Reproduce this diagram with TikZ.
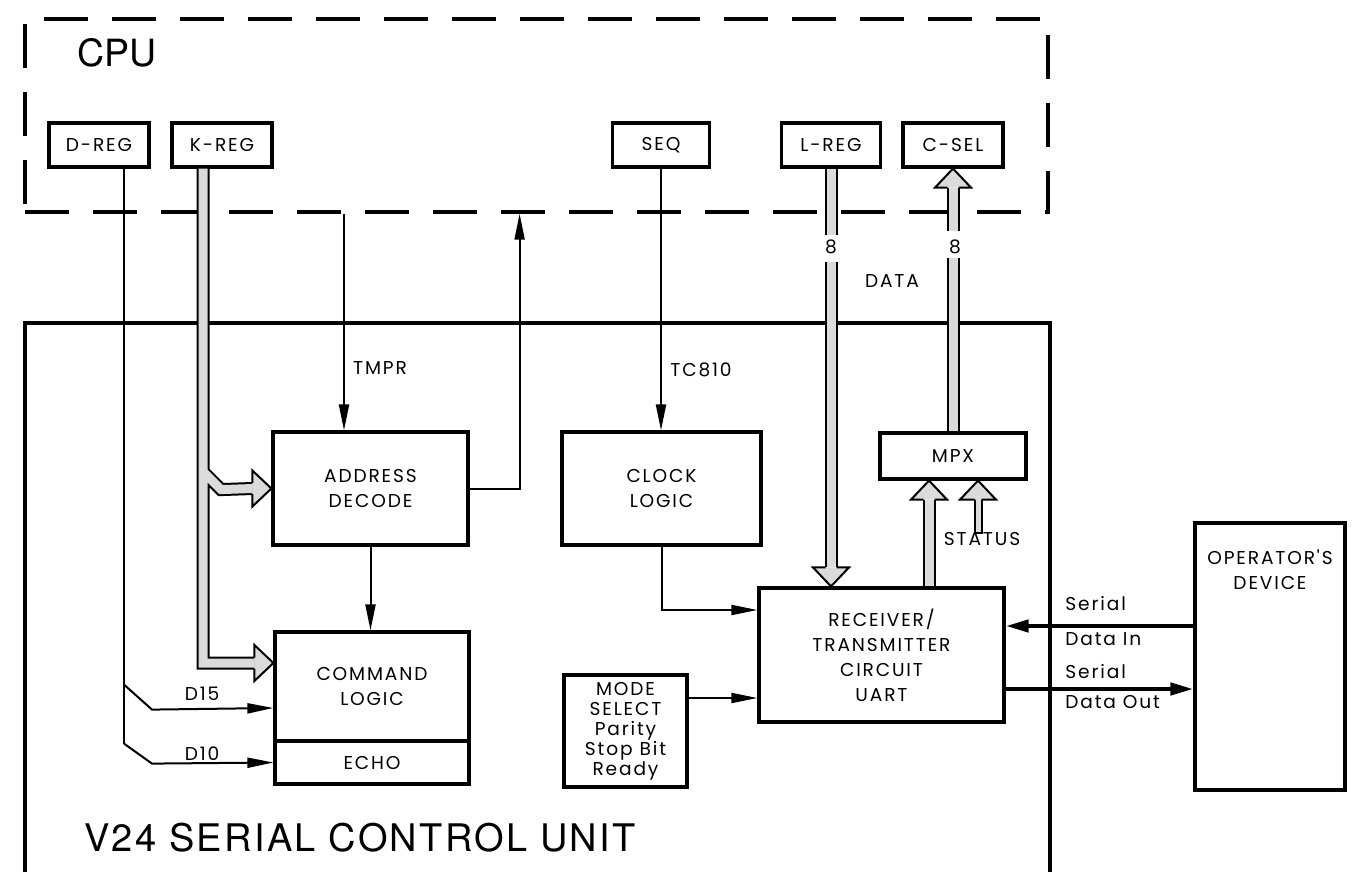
\documentclass[tikz,border=0pt]{standalone}
\usepackage{fontspec}
\usetikzlibrary{arrows.meta, positioning, calc}
\newfontfamily\lblfont[LetterSpace=10]{Poppins}
\newfontfamily\headfont{TeX Gyre Heros}
\tikzset{
  v24box/.style = {draw=black, fill=white, line width=1.6pt, inner sep=0pt,
    align=center, font=\lblfont\fontsize{9.3}{12.5}\selectfont},
  v24cpu/.style = {draw=black, line width=1.7pt, dash pattern=on 22pt off 12pt,
    inner sep=0pt},
  v24frm/.style = {draw=black, line width=1.6pt},
  v24lig/.style = {draw=black, line width=1pt},
  v24sig/.style = {v24lig, -{Triangle[length=13pt, width=5pt]}},
  v24ser/.style = {draw=black, line width=2.2pt, -{Triangle[length=11.5pt, width=6pt]}},
  v24bus/.style = {draw=black!14, line width=4.5pt,
    preaction={draw=black, line width=6.5pt}},
  v24sbus/.style = {draw=black!14, line width=2.5pt, line cap=rect,
    preaction={draw=black, line width=4.5pt, line cap=rect}},
  v24tip/.style = {fill=black!14, draw=black, line width=1pt, line join=miter},
  v24rot/.style = {font=\lblfont\fontsize{9.3}{12.5}\selectfont, inner sep=1pt}
}
\newcommand{\vHead}[3][2.75pt]{\filldraw [v24tip, shift={#2}, rotate=#3]
  (-9.5pt,#1) -- (-9.5pt,9pt) -- (0,0) -- (-9.5pt,-9pt) -- (-9.5pt,-#1);}

\begin{document}
\begin{tikzpicture}[x=0.5pt, y=-0.5pt]
  \useasboundingbox [fill=white] (0,0) rectangle (1354,872);
  \node [v24cpu, minimum width=511.5pt, minimum height=96.5pt] (cpu) at (536.5,115.5) {};
  \node [font=\headfont\fontsize{18.75}{20}\selectfont] (cpul) at (117,53) {CPU};
  \draw [v24frm] (25,872) -- (25,323) -- (1050,323) -- (1050,872);
  \node [font=\headfont\fontsize{19}{22}\selectfont\addfontfeature{LetterSpace=6}]
    (unitl) at (360,838) {V24 SERIAL CONTROL UNIT};

  \node [v24box, minimum width=50pt, minimum height=22pt] (dreg) at (99,145) {D-REG};
  \node [v24box, minimum width=50pt, minimum height=22pt] (kreg) at (222,145) {K-REG};
  \node [v24box, minimum width=48.5pt, minimum height=22pt] (seq) at (661,145) {SEQ};
  \node [v24box, minimum width=49.5pt, minimum height=22pt] (lreg) at (831,145) {L-REG};
  \node [v24box, minimum width=50pt, minimum height=22pt] (csel) at (953,145) {C-SEL};

  \node [v24box, minimum width=97.5pt, minimum height=56.5pt] (addr) at (370.5,488.5) {ADDRESS\\DECODE};
  \node [v24box, minimum width=97pt, minimum height=54.5pt] (cmd) at (372,686.5) {COMMAND\\LOGIC};
  \node [v24box, minimum width=97pt, minimum height=21.5pt, below=-1.6pt of cmd] (echo) {ECHO};
  \node [v24box, minimum width=99.5pt, minimum height=56.5pt] (clock) at (661.5,488.5) {CLOCK\\LOGIC};
  \node [v24box, minimum width=122.5pt, minimum height=67pt] (uart) at (881.5,655)
    {RECEIVER/\\TRANSMITTER\\CIRCUIT\\UART};
  \node [v24box, minimum width=61.5pt, minimum height=56pt, font=\lblfont\fontsize{9.3}{10}\selectfont]
    (mode) at (625.5,731) {MODE\\SELECT\\Parity\\Stop Bit\\Ready};
  \node [v24box, minimum width=73pt, minimum height=23pt] (mpx) at (953,456) {MPX};
  \node [v24box, minimum width=75pt, minimum height=133.5pt] (opdev) at (1270,656.5) {};
  \node [v24rot, align=center, below=13pt of opdev.north] (opdevl) {OPERATOR'S\\DEVICE};

  \node [v24rot] (tmprl) at (380,368) {TMPR};
  \node [v24rot] (tcl) at (701,370) {TC810};
  \node [v24rot] (datal) at (892,281) {DATA};
  \node [v24rot] (n8a) at (831,247) {8};
  \node [v24rot] (n8b) at (955,247) {8};
  \node [v24rot] (status) at (982,539) {STATUS};
  \node [v24rot] (d15l) at (202,694) {D15};
  \node [v24rot] (d10l) at (202,754) {D10};
  \node [v24rot, anchor=west] (sin1) at (1063,604) {Serial};
  \node [v24rot, anchor=west] (sin2) at (1063,639) {Data In};
  \node [v24rot, anchor=west] (sout1) at (1063,671) {Serial};
  \node [v24rot, anchor=west] (sout2) at (1063,702) {Data Out};

  \draw [v24lig] ([xshift=12.5pt]dreg.south) -- ++(0,516) coordinate (d15) -- ++(0,59) coordinate (d10);
  \draw [v24sig] (d15) -- ++(28,25) -- ([yshift=-10.75pt]cmd.west);
  \draw [v24sig] (d10) -- ++(28,20) -- (echo.west);
  \draw [v24sig] ([xshift=-13.25pt]addr.north |- cpu.south) -- ([xshift=-13.25pt]addr.north);
  \draw [v24sig] (addr.east) -- ++(50,0) -- ([xshift=25pt]addr.east |- cpu.south);
  \draw [v24sig] (seq.south) -- (seq.south |- clock.north);
  \draw [v24sig] (addr.south) -- (addr.south |- cmd.north);
  \draw [v24sig] (clock.south) |- ([yshift=22.5pt]uart.west);
  \draw [v24sig] ([yshift=16.5pt]mode.east) -- ([yshift=16.5pt]mode.east -| uart.west);

  \draw [v24bus] ([xshift=-9.5pt]kreg.south) -- ++(0,303) coordinate (kbr)
    |- ([xshift=-9.5pt, yshift=11.75pt]cmd.west)
    (kbr) -- ++(18,18) -- ([xshift=-9.5pt]addr.west);
  \vHead{([yshift=11.75pt]cmd.west)}{0}
  \vHead{(addr.west)}{0}
  \draw [v24bus] (lreg.south) -- ++(0,66) ++(0,27) -- ([yshift=9.5pt]lreg.south |- uart.north);
  \vHead{(lreg.south |- uart.north)}{-90}
  \draw [v24bus] (mpx.north) -- ++(0,-173) ++(0,-27) -- ([yshift=-9.5pt]csel.south);
  \vHead{(csel.south)}{90}
  \draw [v24bus] ([xshift=-12pt]mpx.south |- uart.north) -- ([xshift=-12pt, yshift=-9.5pt]mpx.south);
  \vHead{([xshift=-12pt]mpx.south)}{90}
  \draw [v24sbus] ([xshift=12.5pt]mpx.south |- status.north) -- ([xshift=12.5pt, yshift=-9.5pt]mpx.south);
  \vHead[1.75pt]{([xshift=12.5pt]mpx.south)}{90}

  \draw [v24ser] ([yshift=14.5pt]uart.east -| opdev.west) -- ([yshift=14.5pt]uart.east);
  \draw [v24ser] ([yshift=-17pt]uart.east) -- ([yshift=-17pt]uart.east -| opdev.west);
\end{tikzpicture}
\end{document}
